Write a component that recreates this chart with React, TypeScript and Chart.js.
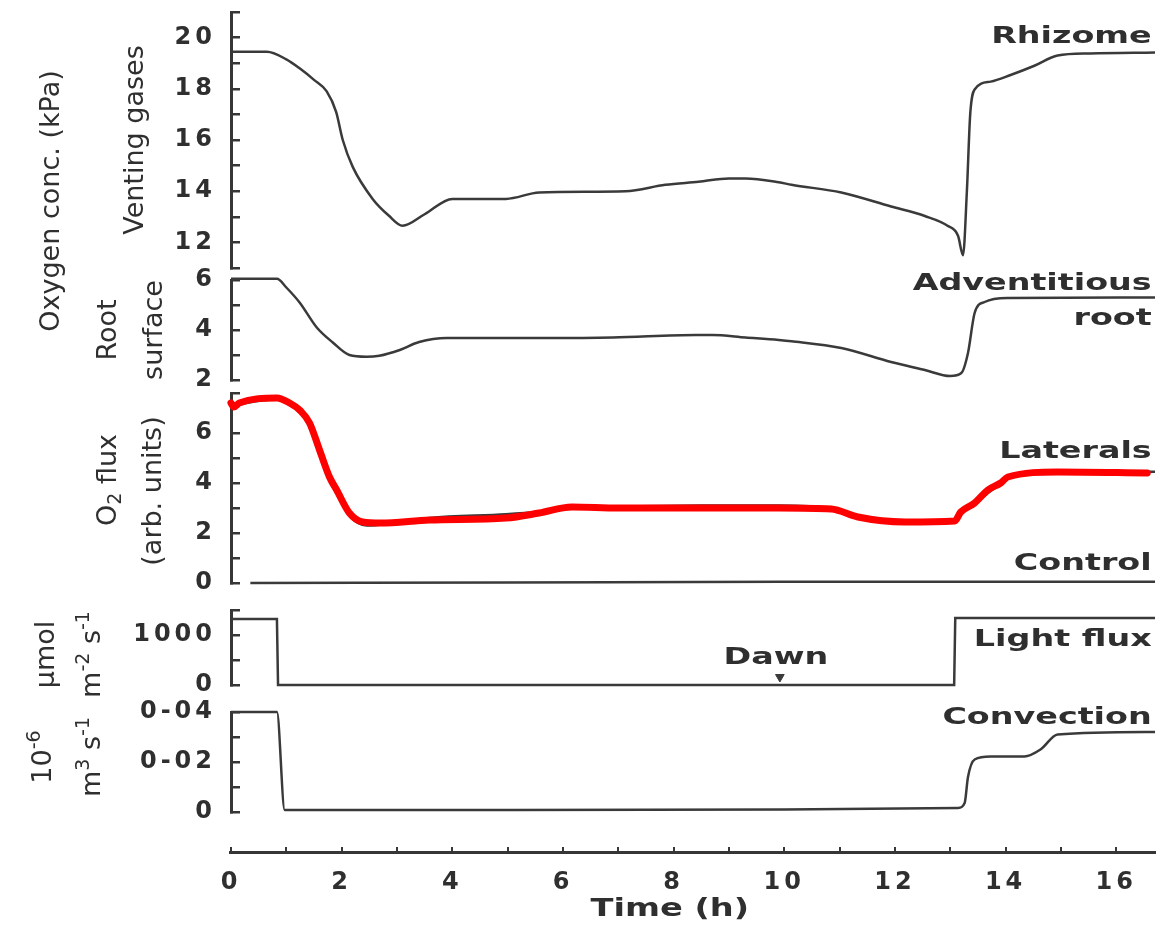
import React, { useEffect, useRef } from 'react';
import { Chart, registerables } from 'chart.js';

Chart.register(...registerables);

// ---------------- DATA ----------------
// Panel 1: venting gases (rhizome), kPa
const rhizomeT = [0, 0.65, 1.0, 1.24, 1.5, 1.73, 1.9, 2.02, 2.2, 2.56, 2.85, 3.1, 3.5, 4.0, 4.97, 5.57, 7.13, 7.85, 8.45, 9.0, 9.3, 9.9, 10.13, 11.03, 11.93, 12.54, 12.95, 13.14, 13.23, 13.3, 13.36, 13.44, 13.73, 14.09, 14.52, 14.94, 15.53, 16.7];
const rhizomeV = [19.45, 19.45, 19.15, 18.8, 18.35, 17.9, 17.1, 16.0, 14.95, 13.7, 13.05, 12.65, 13.1, 13.7, 13.7, 13.95, 14.0, 14.25, 14.37, 14.5, 14.5, 14.35, 14.25, 13.95, 13.4, 13.03, 12.65, 12.26, 11.5, 14.0, 17.0, 17.97, 18.28, 18.54, 18.9, 19.3, 19.38, 19.42];

// Panel 2: root surface (adventitious root), kPa
const rootT = [0, 0.83, 1.0, 1.24, 1.55, 1.84, 2.14, 2.45, 2.68, 3.05, 3.4, 3.9, 5.7, 6.9, 8.4, 8.7, 9.3, 9.9, 10.13, 11.03, 11.93, 12.54, 13.0, 13.2, 13.32, 13.44, 13.62, 14.04, 16.7];
const rootV = [6.05, 6.05, 5.7, 5.1, 4.1, 3.5, 3.0, 2.93, 2.97, 3.2, 3.52, 3.68, 3.68, 3.7, 3.8, 3.8, 3.7, 3.6, 3.55, 3.28, 2.72, 2.4, 2.16, 2.28, 3.08, 4.68, 5.12, 5.28, 5.3];

// Panel 3: O2 flux (arb. units)
const lateralRedT = [0, 0.05, 0.15, 0.83, 1.06, 1.25, 1.42, 1.6, 1.78, 1.91, 2.14, 2.38, 2.7, 3.59, 4.97, 5.57, 6.16, 7.0, 9.9, 10.85, 11.33, 12.18, 13.08, 13.19, 13.44, 13.68, 13.91, 14.04, 14.94, 16.56];
const lateralRedV = [7.2, 7.04, 7.2, 7.4, 7.2, 6.9, 6.4, 5.32, 4.24, 3.72, 2.8, 2.44, 2.4, 2.52, 2.6, 2.8, 3.04, 3.0, 3.0, 2.96, 2.64, 2.44, 2.48, 2.84, 3.2, 3.72, 4.0, 4.24, 4.44, 4.4];
const lateralT = [0, 0.83, 1.06, 1.42, 1.6, 1.78, 1.91, 2.14, 2.45, 2.8, 3.59, 4.97, 5.57, 6.16, 7.0, 8.5, 9.9, 10.85, 11.33, 12.18, 13.08, 13.19, 13.44, 13.68, 13.91, 14.04, 14.94, 16.7];
const lateralV = [7.1, 7.35, 7.15, 6.3, 5.2, 4.1, 3.6, 2.7, 2.3, 2.35, 2.6, 2.75, 2.85, 3.0, 3.05, 3.1, 3.1, 3.0, 2.7, 2.5, 2.5, 2.8, 3.15, 3.6, 3.95, 4.2, 4.42, 4.45];
const controlT = [0.35, 5, 10, 16.7];
const controlV = [0, 0.02, 0.05, 0.05];

// Panel 4: light flux, umol m-2 s-1
const lightT = [0, 0.83, 0.85, 13.07, 13.09, 16.7];
const lightV = [1320, 1320, 0, 0, 1340, 1340];
const dawnT = [9.92];
const dawnV = [160];

// Panel 5: convection, 10^-6 m3 s-1
const convT = [0, 0.83, 0.97, 1.1, 5, 10, 13.14, 13.26, 13.32, 13.44, 13.73, 14.34, 14.63, 14.94, 16.7];
const convV = [0.04, 0.04, 0.0008, 0.0008, 0.0008, 0.001, 0.0016, 0.0036, 0.014, 0.021, 0.0222, 0.0222, 0.025, 0.031, 0.032];

// Tick labels
const timeTickValues = [0, 2, 4, 6, 8, 10, 12, 14, 16];
const timeTickLabels = ['0', '2', '4', '6', '8', '10', '12', '14', '16'];
const ventTickValues = [12, 14, 16, 18, 20];
const ventTickLabels = ['12', '14', '16', '18', '20'];
const rootTickValues = [2, 4, 6];
const rootTickLabels = ['2', '4', '6'];
const fluxTickValues = [0, 2, 4, 6];
const fluxTickLabels = ['0', '2', '4', '6'];
const lightTickValues = [0, 1000];
const lightTickLabels = ['0', '1000'];
const convTickValues = [0, 0.02, 0.04];
const convTickLabels = ['0', '0-02', '0-04'];

// Series annotation labels (anchored in data units)
const seriesLabelText = ['Rhizome', 'Adventitious', 'root', 'Laterals', 'Control', 'Light flux', 'Convection', 'Dawn'];
const seriesLabelScale = ['yVent', 'yRoot', 'yRoot', 'yFlux', 'yFlux', 'yLight', 'yConv', 'yLight'];
const seriesLabelT = [16.64, 16.64, 16.64, 16.64, 16.64, 16.64, 16.64, 9.85];
const seriesLabelV = [19.79, 5.6, 4.2, 5.0, 0.52, 780, 0.0352, 420];
const seriesLabelAlign = ['right', 'right', 'right', 'right', 'right', 'right', 'right', 'center'];

// ---------------- STYLE ----------------
const LINE = '#3a3a3a';
const AXIS = '#363636';
const TEXT = '#2f2f2f';
const TICK_FONT = { family: '"DejaVu Sans", sans-serif', size: 24, weight: 'bold' as const };
const TICK_SPACING = '4px';
const LABEL_FONT = 'bold 23px "DejaVu Sans", sans-serif';
const LABEL_STRETCH = 1.45;
const ROT_SIZE = 27;
const ROT_FAMILY = '"DejaVu Sans", sans-serif';
const Y_WIDTH = 231;

type Part = { t: string; sup?: boolean; sub?: boolean };
const axisTitles: { parts: Part[]; scales: string[]; dx: number; dy: number }[] = [
  { parts: [{ t: 'Oxygen conc. (kPa)' }], scales: ['yVent', 'yRoot'], dx: -172, dy: 5 },
  { parts: [{ t: 'Venting gases' }], scales: ['yVent'], dx: -88, dy: 0 },
  { parts: [{ t: 'Root' }], scales: ['yRoot'], dx: -115, dy: 0 },
  { parts: [{ t: 'surface' }], scales: ['yRoot'], dx: -69, dy: 0 },
  { parts: [{ t: 'O' }, { t: '2', sub: true }, { t: ' flux' }], scales: ['yFlux'], dx: -115, dy: -8 },
  { parts: [{ t: '(arb. units)' }], scales: ['yFlux'], dx: -70, dy: 3 },
  { parts: [{ t: 'μmol' }], scales: ['yLight'], dx: -177, dy: 7 },
  { parts: [{ t: 'm' }, { t: '-2', sup: true }, { t: ' s' }, { t: '-1', sup: true }], scales: ['yLight'], dx: -131, dy: 7 },
  { parts: [{ t: '10' }, { t: '-6', sup: true }], scales: ['yConv'], dx: -180, dy: -5 },
  { parts: [{ t: 'm' }, { t: '3', sup: true }, { t: ' s' }, { t: '-1', sup: true }], scales: ['yConv'], dx: -131, dy: -5 },
];

function pts(ts: number[], vs: number[]) {
  return ts.map((t, i) => ({ x: t, y: vs[i] }));
}

function labelFor(values: number[], labels: string[]) {
  return (v: any) => {
    const n = Number(v);
    const i = values.findIndex((x) => Math.abs(x - n) < 1e-7);
    return i >= 0 ? labels[i] : '';
  };
}

function drawWide(ctx: CanvasRenderingContext2D, text: string, x: number, y: number, align: string, font: string, sx: number) {
  ctx.save();
  ctx.font = font;
  const w = ctx.measureText(text).width * sx;
  const left = align === 'right' ? x - w : x - w / 2;
  ctx.translate(left, y);
  ctx.scale(sx, 1);
  ctx.textAlign = 'left';
  ctx.textBaseline = 'alphabetic';
  ctx.fillText(text, 0, 0);
  ctx.restore();
}

function drawRotated(ctx: CanvasRenderingContext2D, parts: Part[], baselineX: number, centerY: number) {
  const fontFor = (p: Part) => `${p.sup || p.sub ? Math.round(ROT_SIZE * 0.7) : ROT_SIZE}px ${ROT_FAMILY}`;
  const widths = parts.map((p) => {
    ctx.font = fontFor(p);
    return ctx.measureText(p.t).width;
  });
  const total = widths.reduce((a, b) => a + b, 0);
  ctx.save();
  ctx.translate(baselineX, centerY);
  ctx.rotate(-Math.PI / 2);
  ctx.textAlign = 'left';
  ctx.textBaseline = 'alphabetic';
  let cx = -total / 2;
  parts.forEach((p, i) => {
    ctx.font = fontFor(p);
    const dy = p.sup ? -ROT_SIZE * 0.42 : p.sub ? ROT_SIZE * 0.18 : 0;
    ctx.fillText(p.t, cx, dy);
    cx += widths[i];
  });
  ctx.restore();
}

const annotationPlugin = {
  id: 'panelAnnotations',
  beforeDraw(chart: any) {
    chart.ctx.letterSpacing = TICK_SPACING;
  },
  afterDraw(chart: any) {
    const { ctx, chartArea, scales } = chart;
    ctx.save();
    ctx.letterSpacing = '0px';
    ctx.fillStyle = TEXT;
    seriesLabelText.forEach((text, i) => {
      const x = scales.x.getPixelForValue(seriesLabelT[i]);
      const y = scales[seriesLabelScale[i]].getPixelForValue(seriesLabelV[i]);
      drawWide(ctx, text, x, y, seriesLabelAlign[i], LABEL_FONT, LABEL_STRETCH);
    });
    drawWide(ctx, 'Time (h)', scales.x.getPixelForValue(7.93), 916, 'center', 'bold 24px "DejaVu Sans", sans-serif', 1.4);
    axisTitles.forEach((a) => {
      const top = scales[a.scales[0]].top;
      const bottom = scales[a.scales[a.scales.length - 1]].bottom;
      drawRotated(ctx, a.parts, chartArea.left + a.dx, (top + bottom) / 2 + a.dy);
    });
    ctx.restore();
  },
};

function fixY(s: any) {
  s.width = Y_WIDTH;
  s.paddingTop = 0;
  s.paddingBottom = 0;
  s.paddingLeft = 0;
  s.paddingRight = 0;
}

function dataScale(min: number, max: number, step: number, cb: any, weight: number, stackWeight: number) {
  return {
    type: 'linear',
    axis: 'y',
    position: 'left',
    stack: 'left',
    stackWeight,
    weight,
    min,
    max,
    bounds: 'data',
    grid: { display: true, drawOnChartArea: false, drawTicks: true, tickLength: -9, lineWidth: 2.5, color: AXIS, tickColor: AXIS },
    border: { display: true, width: 3, color: AXIS },
    ticks: { stepSize: step, autoSkip: false, includeBounds: true, padding: 24, callback: cb, font: TICK_FONT, color: TEXT },
    afterFit: fixY,
  };
}

function gapScale(weight: number, stackWeight: number) {
  return {
    type: 'linear',
    axis: 'y',
    position: 'left',
    stack: 'left',
    stackWeight,
    weight,
    min: 0,
    max: 1,
    grid: { display: false },
    border: { display: false },
    ticks: { display: false },
    afterFit: fixY,
  };
}

export default function App() {
  const ref = useRef<HTMLCanvasElement>(null);
  useEffect(() => {
    const lineBase = { pointRadius: 0, borderColor: LINE, borderWidth: 2.5, fill: false, clip: 10, cubicInterpolationMode: 'monotone' as const };
    const chart = new Chart(ref.current as HTMLCanvasElement, {
      type: 'line',
      data: {
        datasets: [
          { ...lineBase, label: 'Laterals (highlight)', data: pts(lateralRedT, lateralRedV), yAxisID: 'yFlux', borderColor: '#ff0000', borderWidth: 7, borderCapStyle: 'round', borderJoinStyle: 'round', order: 0 },
          { ...lineBase, label: 'Laterals', data: pts(lateralT, lateralV), yAxisID: 'yFlux', order: 1 },
          { ...lineBase, label: 'Rhizome', data: pts(rhizomeT, rhizomeV), yAxisID: 'yVent', order: 2 },
          { ...lineBase, label: 'Adventitious root', data: pts(rootT, rootV), yAxisID: 'yRoot', order: 2 },
          { ...lineBase, label: 'Control', data: pts(controlT, controlV), yAxisID: 'yFlux', order: 2 },
          { ...lineBase, label: 'Light flux', data: pts(lightT, lightV), yAxisID: 'yLight', cubicInterpolationMode: 'default', tension: 0, order: 2 },
          { ...lineBase, label: 'Convection', data: pts(convT, convV), yAxisID: 'yConv', order: 2 },
          { label: 'Dawn', data: pts(dawnT, dawnV), yAxisID: 'yLight', showLine: false, clip: 10, pointStyle: 'triangle', pointRotation: 180, pointRadius: 5, pointBackgroundColor: LINE, pointBorderColor: LINE, pointBorderWidth: 1, order: 2 },
        ] as any,
      },
      options: {
        responsive: false,
        animation: false,
        devicePixelRatio: 1,
        events: [],
        layout: { padding: { top: 12, right: 6, bottom: 0, left: 0 } },
        plugins: { legend: { display: false }, tooltip: { enabled: false } },
        scales: {
          x: {
            type: 'linear',
            position: 'bottom',
            min: 0,
            max: 16.7,
            bounds: 'data',
            grid: { display: true, drawOnChartArea: false, drawTicks: true, tickLength: -5, lineWidth: 2, color: AXIS, tickColor: AXIS },
            border: { display: true, width: 3, color: AXIS },
            ticks: { stepSize: 1, autoSkip: false, includeBounds: false, maxRotation: 0, padding: 21, callback: labelFor(timeTickValues, timeTickLabels), font: TICK_FONT, color: TEXT },
            afterFit: (s: any) => { s.height = 74; s.paddingLeft = 0; s.paddingRight = 0; s.paddingTop = 0; s.paddingBottom = 0; },
          },
          yVent: dataScale(11, 21, 1, labelFor(ventTickValues, ventTickLabels), 10, 256),
          gap1: gapScale(9, 12),
          yRoot: dataScale(2, 6, 1, labelFor(rootTickValues, rootTickLabels), 8, 100),
          gap2: gapScale(7, 13),
          yFlux: dataScale(0, 7.6, 1, labelFor(fluxTickValues, fluxTickLabels), 6, 190),
          gap3: gapScale(5, 27),
          yLight: dataScale(0, 1500, 500, labelFor(lightTickValues, lightTickLabels), 4, 75),
          gap4: gapScale(3, 27),
          yConv: dataScale(0, 0.04, 0.01, labelFor(convTickValues, convTickLabels), 2, 100),
          gap5: gapScale(1, 40),
        } as any,
      },
      plugins: [annotationPlugin],
    });
    return () => chart.destroy();
  }, []);
  return (
    <div style={{ position: 'absolute', left: 0, top: 0, width: 1161, height: 926, background: '#ffffff' }}>
      <canvas ref={ref} width={1161} height={926} style={{ display: 'block' }} />
    </div>
  );
}
